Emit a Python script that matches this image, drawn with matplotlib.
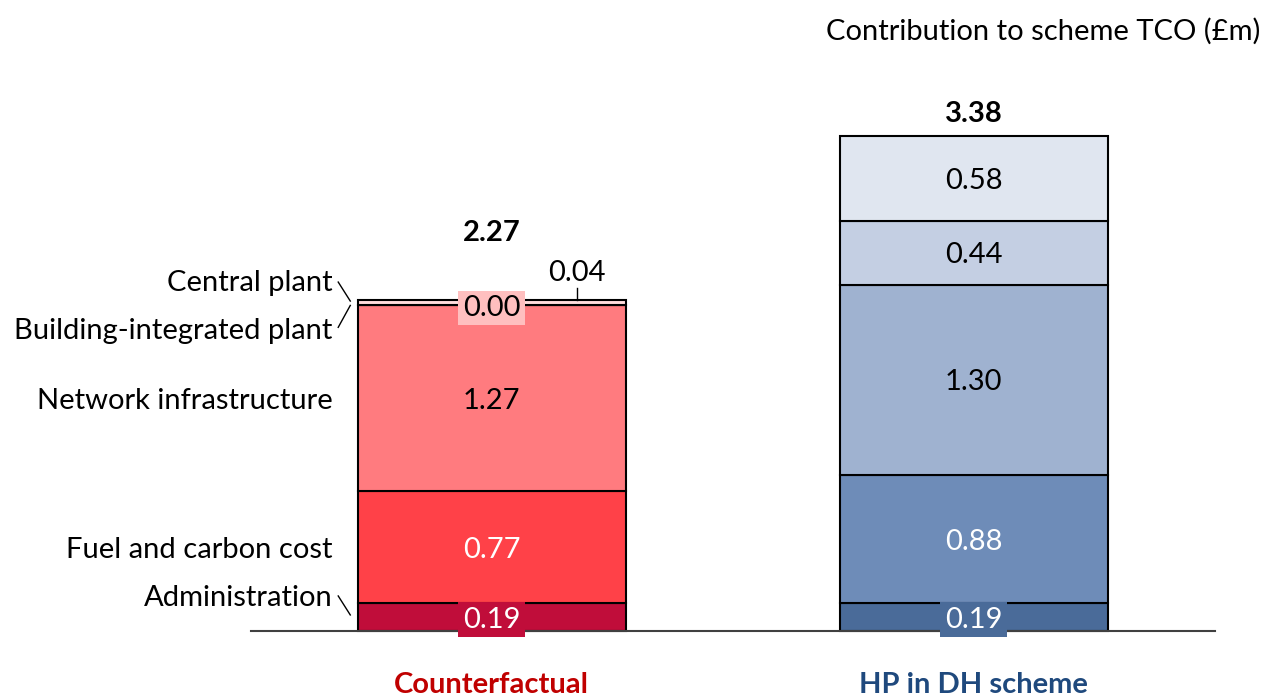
import matplotlib.pyplot as plt

plt.rcParams['font.family'] = ['Lato', 'DejaVu Sans']

# Data
scenarios = ["Counterfactual", "HP in DH scheme"]
components = ["Administration", "Fuel and carbon cost", "Network infrastructure",
              "Building-integrated plant", "Central plant"]
counterfactual = [0.19, 0.77, 1.27, 0.00, 0.04]
hp_dh = [0.19, 0.88, 1.30, 0.44, 0.58]
totals = ["2.27", "3.38"]

red_colors = ["#C00D3A", "#FF4148", "#FF7B7F", "#FFBFBF", "#FFDCDC"]
blue_colors = ["#4A6B99", "#6E8CB8", "#9FB2D0", "#C4CFE3", "#E0E6F0"]
label_colors = ["#C00000", "#1F497D"]

fig = plt.figure(figsize=(12.74, 6.97), dpi=100)
ax = fig.add_axes([0, 0, 1, 1])
ax.set_xlim(-1.0197, 1.6234)
ax.set_ylim(-0.452, 4.322)
ax.axis('off')

width = 0.556
fs = 21
total_offsets = [0.47, 0.165]
va = 'center_baseline'

for i, (vals, cols) in enumerate([(counterfactual, red_colors), (hp_dh, blue_colors)]):
    bottom = 0
    for j, (v, c) in enumerate(zip(vals, cols)):
        ax.bar(i, v, width, bottom=bottom, color=c, edgecolor='black', linewidth=1.5, zorder=2)
        mid = bottom + v / 2
        txt = f"{v:.2f}"
        tcol = 'white' if j in (0, 1) else 'black'
        if i == 0 and j == 4:
            # small segment: label above with leader line
            ax.plot([0.177, 0.177], [bottom + v, bottom + v + 0.08], color='black', lw=1, zorder=3)
            ax.text(0.177, bottom + v + 0.20, txt, ha='center', va=va, fontsize=fs, zorder=4)
        elif j == 0 or (i == 0 and j == 3):
            ax.text(i, mid, txt, ha='center', va=va, fontsize=fs, color=tcol, zorder=4,
                    bbox=dict(boxstyle='square,pad=0.15', fc=c, ec='none'))
        else:
            ax.text(i, mid, txt, ha='center', va=va, fontsize=fs, color=tcol, zorder=4)
        bottom += v
    ax.text(i, bottom + total_offsets[i], totals[i], ha='center', va=va, fontsize=fs,
            fontweight='bold')
    ax.text(i, -0.355, scenarios[i], ha='center', va=va, fontsize=fs,
            fontweight='bold', color=label_colors[i])

# baseline
ax.plot([-0.5, 1.5], [0, 0], color='#404040', lw=1.5, zorder=3)

# component labels on the left
lx = -0.33
label_y = [0.24, 0.57, 1.59, 2.07, 2.40]
for name, y in zip(components, label_y):
    ax.text(lx, y, name, ha='right', va=va, fontsize=fs)

# bracket-like ticks
ax.plot([-0.318, -0.293], [0.24, 0.11], color='black', lw=1)
ax.plot([-0.318, -0.293], [2.39, 2.26], color='black', lw=1)
ax.plot([-0.293, -0.318], [2.23, 2.08], color='black', lw=1)

fig.text(0.9895, 0.958, "Contribution to scheme TCO (£m)", ha='right', va=va, fontsize=fs)

fig.savefig("out.png", dpi=100)
